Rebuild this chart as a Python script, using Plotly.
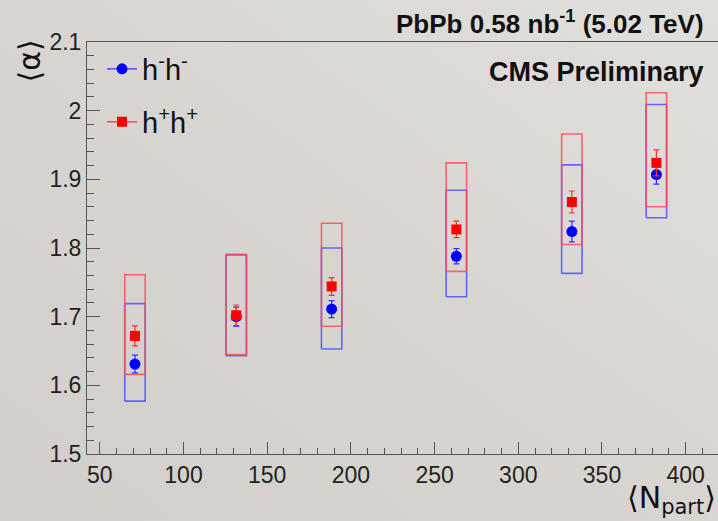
import base64
import plotly.graph_objects as go

# ---------------- data ----------------
npart = [71, 131.5, 188.5, 263, 332, 382.5]

hmhm_val = [1.631, 1.700, 1.711, 1.788, 1.824, 1.907]
hmhm_stat = [0.013, 0.014, 0.0125, 0.011, 0.015, 0.014]
hmhm_sys_lo = [1.577, 1.643, 1.653, 1.729, 1.763, 1.844]
hmhm_sys_hi = [1.719, 1.790, 1.800, 1.884, 1.921, 2.009]

hphp_val = [1.672, 1.702, 1.744, 1.827, 1.867, 1.924]
hphp_stat = [0.0145, 0.015, 0.013, 0.012, 0.016, 0.019]
hphp_sys_lo = [1.616, 1.645, 1.686, 1.766, 1.805, 1.860]
hphp_sys_hi = [1.761, 1.791, 1.836, 1.924, 1.966, 2.026]

x_ticks = [50, 100, 150, 200, 250, 300, 350, 400]
y_ticks = [1.5, 1.6, 1.7, 1.8, 1.9, 2.0, 2.1]
y_tick_text = ["1.5", "1.6", "1.7", "1.8", "1.9", "2", "2.1"]

BOX_HALF = 6.1
FONT = "Liberation Sans, Arial, sans-serif"

# soft background gradient (as in the photographed slide)
svg = ('<svg xmlns="http://www.w3.org/2000/svg" width="718" height="521">'
       '<defs><linearGradient id="g" x1="0" y1="1" x2="1" y2="0">'
       '<stop offset="0" stop-color="#d2cfca"/>'
       '<stop offset="0.5" stop-color="#d8d5d1"/>'
       '<stop offset="1" stop-color="#e1dfdc"/>'
       '</linearGradient></defs>'
       '<rect width="718" height="521" fill="url(#g)"/></svg>')
bg_src = "data:image/svg+xml;base64," + base64.b64encode(svg.encode()).decode()


def box_path(xs, lo, hi, half):
    px, py = [], []
    for x, a, b in zip(xs, lo, hi):
        px += [x - half, x + half, x + half, x - half, x - half, None]
        py += [a, a, b, b, a, None]
    return px, py


fig = go.Figure()

bx, by = box_path(npart, hmhm_sys_lo, hmhm_sys_hi, BOX_HALF)
fig.add_trace(go.Scatter(x=bx, y=by, mode="lines", showlegend=False,
                         line=dict(color="rgba(80,80,255,0.85)", width=1.6),
                         hoverinfo="skip"))
bx, by = box_path(npart, hphp_sys_lo, hphp_sys_hi, BOX_HALF)
fig.add_trace(go.Scatter(x=bx, y=by, mode="lines", showlegend=False,
                         line=dict(color="rgba(255,70,80,0.8)", width=1.6),
                         hoverinfo="skip"))

fig.add_trace(go.Scatter(
    x=npart, y=hmhm_val, mode="markers", showlegend=False,
    marker=dict(symbol="circle", size=11, color="#0000ff"),
    error_y=dict(type="data", array=hmhm_stat, color="#3030ff",
                 thickness=1.2, width=3)))
fig.add_trace(go.Scatter(
    x=npart, y=hphp_val, mode="markers", showlegend=False,
    marker=dict(symbol="square", size=10, color="#ff0000"),
    error_y=dict(type="data", array=hphp_stat, color="#ff3030",
                 thickness=1.2, width=3)))

# legend entries
fig.add_trace(go.Scatter(
    x=[None], y=[None], mode="lines+markers", name="h<sup>-</sup>h<sup>-</sup>",
    marker=dict(symbol="circle", size=11, color="#0000ff"),
    line=dict(color="#3030ff", width=1.2), legend="legend"))
fig.add_trace(go.Scatter(
    x=[None], y=[None], mode="lines+markers", name="h<sup>+</sup>h<sup>+</sup>",
    marker=dict(symbol="square", size=10, color="#ff0000"),
    line=dict(color="#ff3030", width=1.2), legend="legend2"))

W, H = 718, 521
L, R, T, B = 87, 0, 42, 67
pw, ph = W - L - R, H - T - B


def px_x(p):
    return (p - L) / pw


def px_y(p):
    return 1 - (p - T) / ph


leg_common = dict(bgcolor="rgba(0,0,0,0)", borderwidth=0,
                  font=dict(family=FONT, size=29, color="#111"),
                  xanchor="left", yanchor="middle", itemwidth=30)
fig.update_layout(
    width=W, height=H,
    margin=dict(l=L, r=R, t=T, b=B),
    paper_bgcolor="#d8d5d0", plot_bgcolor="rgba(0,0,0,0)",
    font=dict(family=FONT, color="#222"),
    images=[dict(source=bg_src, xref="paper", yref="paper",
                 x=px_x(0), y=px_y(0), sizex=W / pw, sizey=H / ph,
                 xanchor="left", yanchor="top", sizing="stretch",
                 layer="below")],
    legend=dict(x=px_x(102), y=px_y(69), **leg_common),
    legend2=dict(x=px_x(102), y=px_y(122), **leg_common),
    xaxis=dict(range=[42.35, 419.3], tickvals=x_ticks, ticks="inside",
               ticklen=12, tickcolor="#555", tickwidth=1,
               showline=True, linecolor="#555", linewidth=1, mirror=True,
               showgrid=False, zeroline=False,
               tickfont=dict(family=FONT, size=23, color="#222"),
               minor=dict(dtick=10, ticks="inside", ticklen=6,
                          tickcolor="#555", showgrid=False)),
    yaxis=dict(range=[1.5, 2.1], tickvals=y_ticks, ticktext=y_tick_text,
               ticks="inside", ticklen=13, tickcolor="#555", tickwidth=1,
               showline=True, linecolor="#555", linewidth=1, mirror=False,
               showgrid=False, zeroline=False,
               tickfont=dict(family=FONT, size=23, color="#222"),
               minor=dict(dtick=0.02, ticks="inside", ticklen=7,
                          tickcolor="#555", showgrid=False)),
)

fig.add_annotation(xref="paper", yref="paper", x=px_x(706), y=px_y(22),
                   xanchor="right", yanchor="middle", showarrow=False,
                   text="<b>PbPb 0.58 nb<sup>-1</sup> (5.02 TeV)</b>",
                   font=dict(family=FONT, size=26, color="#111"))
fig.add_annotation(xref="paper", yref="paper", x=px_x(706), y=px_y(72),
                   xanchor="right", yanchor="middle", showarrow=False,
                   text="<b>CMS Preliminary</b>",
                   font=dict(family=FONT, size=27, color="#111"))
fig.add_annotation(xref="paper", yref="paper", x=px_x(29), y=px_y(38),
                   xanchor="center", yanchor="top", showarrow=False,
                   textangle=-90, text="⟨α⟩",
                   font=dict(family="DejaVu Sans, " + FONT, size=30, color="#111"))
fig.add_annotation(xref="paper", yref="paper", x=px_x(718), y=px_y(521),
                   xanchor="right", yanchor="bottom", showarrow=False,
                   text="⟨N<sub>part</sub>⟩",
                   font=dict(family="DejaVu Sans, " + FONT, size=30, color="#111"))

fig.write_html("out.html")
